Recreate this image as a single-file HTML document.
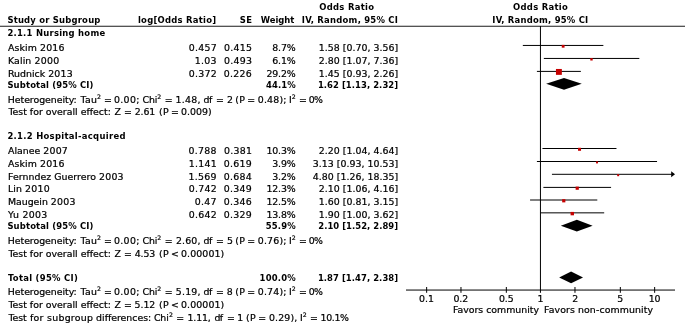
<!DOCTYPE html>
<html><head><meta charset="utf-8"><title>Forest plot</title>
<style>
html,body{margin:0;padding:0;background:#fff;overflow:hidden;}
svg{display:block;}
text{fill:#000;}
.r{font-family:"DejaVu Sans","Liberation Sans",sans-serif;font-weight:normal;font-size:9.4px;stroke:#000;stroke-width:0.22px;}
.b{font-family:"DejaVu Sans Condensed","DejaVu Sans","Liberation Sans",sans-serif;font-weight:bold;font-size:9.4px;}
</style></head><body>
<svg width="685" height="323" viewBox="0 0 685 323">
<rect width="685" height="323" fill="#fff"/>
<line x1="522.84" y1="45.45" x2="603.37" y2="45.45" stroke="#000" stroke-width="1"/>
<rect x="561.75" y="44.87" width="2.80" height="2.80" fill="#c60000"/>
<line x1="543.85" y1="58.45" x2="639.32" y2="58.45" stroke="#000" stroke-width="1"/>
<rect x="590.28" y="58.11" width="2.40" height="2.40" fill="#c60000"/>
<line x1="536.91" y1="71.40" x2="580.87" y2="71.40" stroke="#000" stroke-width="1"/>
<rect x="555.95" y="68.96" width="5.90" height="5.90" fill="#c60000"/>
<line x1="542.44" y1="148.50" x2="616.48" y2="148.50" stroke="#000" stroke-width="1"/>
<rect x="578.04" y="147.80" width="3.00" height="3.00" fill="#c60000"/>
<line x1="536.91" y1="161.50" x2="657.06" y2="161.50" stroke="#000" stroke-width="1"/>
<rect x="595.99" y="161.40" width="2.00" height="2.00" fill="#c60000"/>
<polygon points="675.0,174.30 671.2,171.30 671.2,177.30" fill="#000"/>
<line x1="551.94" y1="174.30" x2="673.00" y2="174.30" stroke="#000" stroke-width="1"/>
<rect x="617.16" y="174.20" width="2.00" height="2.00" fill="#c60000"/>
<line x1="543.38" y1="187.40" x2="611.08" y2="187.40" stroke="#000" stroke-width="1"/>
<rect x="575.63" y="186.58" width="3.20" height="3.20" fill="#c60000"/>
<line x1="530.07" y1="200.00" x2="597.31" y2="200.00" stroke="#000" stroke-width="1"/>
<rect x="562.17" y="199.18" width="3.20" height="3.20" fill="#c60000"/>
<line x1="540.50" y1="212.85" x2="604.19" y2="212.85" stroke="#000" stroke-width="1"/>
<rect x="570.58" y="211.91" width="3.40" height="3.40" fill="#c60000"/>
<polygon points="546.15,83.85 563.98,78.05 581.77,83.85 563.98,89.65" fill="#000"/>
<polygon points="560.83,225.65 576.83,219.85 592.64,225.65 576.83,231.45" fill="#000"/>
<polygon points="559.17,277.40 571.09,271.60 583.03,277.40 571.09,283.20" fill="#000"/>
<line x1="0" y1="26.25" x2="685" y2="26.25" stroke="#000" stroke-width="0.9"/>
<line x1="540.45" y1="26" x2="540.45" y2="292.8" stroke="#000" stroke-width="1"/>
<line x1="406" y1="290.05" x2="675" y2="290.05" stroke="#000" stroke-width="1"/>
<line x1="426.65" y1="287.0" x2="426.65" y2="292.8" stroke="#000" stroke-width="1"/>
<line x1="460.97" y1="287.0" x2="460.97" y2="292.8" stroke="#000" stroke-width="1"/>
<line x1="506.33" y1="287.0" x2="506.33" y2="292.8" stroke="#000" stroke-width="1"/>
<line x1="574.97" y1="287.0" x2="574.97" y2="292.8" stroke="#000" stroke-width="1"/>
<line x1="620.33" y1="287.0" x2="620.33" y2="292.8" stroke="#000" stroke-width="1"/>
<line x1="654.65" y1="287.0" x2="654.65" y2="292.8" stroke="#000" stroke-width="1"/>
<text class="b"><tspan x="319.23" y="10.00"><tspan letter-spacing="0.292">Odds Ratio</tspan></tspan></text>
<text class="b"><tspan x="513.02" y="10.00"><tspan letter-spacing="0.292">Odds Ratio</tspan></tspan></text>
<text class="b"><tspan x="7.38" y="23.00"><tspan letter-spacing="0.211">Study or Subgroup</tspan></tspan></text>
<text class="b"><tspan x="137.95" y="23.00"><tspan letter-spacing="0.263">log[Odds Ratio]</tspan></tspan></text>
<text class="b"><tspan x="239.76" y="23.00"><tspan letter-spacing="0.500">SE</tspan></tspan></text>
<text class="b"><tspan x="260.75" y="23.00"><tspan letter-spacing="-0.010">Weight</tspan></tspan></text>
<text class="b"><tspan x="301.75" y="23.00"><tspan letter-spacing="0.247">IV, Random, 95% CI</tspan></tspan></text>
<text class="b"><tspan x="492.35" y="23.00"><tspan letter-spacing="0.229">IV, Random, 95% CI</tspan></tspan></text>
<text class="r"><tspan x="7.97" y="51.00"><tspan letter-spacing="0.087">Askim </tspan><tspan letter-spacing="0.250">2016</tspan> </tspan><tspan x="188.72" y="51.00"><tspan letter-spacing="0.270">0.457</tspan> </tspan><tspan x="224.12" y="51.00"><tspan letter-spacing="0.270">0.415</tspan> </tspan><tspan x="272.31" y="51.00"><tspan letter-spacing="-0.152">8.7%</tspan> </tspan><tspan x="318.78" y="51.00"><tspan letter-spacing="0.031">1.58 [0.70, 3.56]</tspan></tspan></text>
<text class="r"><tspan x="8.03" y="64.00"><tspan letter-spacing="0.100">Kalin </tspan><tspan letter-spacing="0.250">2000</tspan> </tspan><tspan x="194.86" y="64.00"><tspan letter-spacing="0.271">1.03</tspan> </tspan><tspan x="223.99" y="64.00"><tspan letter-spacing="0.271">0.493</tspan> </tspan><tspan x="272.31" y="64.00"><tspan letter-spacing="-0.152">6.1%</tspan> </tspan><tspan x="318.78" y="64.00"><tspan letter-spacing="0.031">2.80 [1.07, 7.36]</tspan></tspan></text>
<text class="r"><tspan x="8.03" y="77.00">Rudnick <tspan letter-spacing="0.250">2013</tspan> </tspan><tspan x="188.85" y="77.00"><tspan letter-spacing="0.269">0.372</tspan> </tspan><tspan x="223.86" y="77.00"><tspan letter-spacing="0.273">0.226</tspan> </tspan><tspan x="266.43" y="77.00"><tspan letter-spacing="-0.145">29.2%</tspan> </tspan><tspan x="318.78" y="77.00"><tspan letter-spacing="0.031">1.45 [0.93, 2.26]</tspan></tspan></text>
<text class="r"><tspan x="7.97" y="154.00">Alanee <tspan letter-spacing="0.250">2007</tspan> </tspan><tspan x="188.46" y="154.00"><tspan letter-spacing="0.273">0.788</tspan> </tspan><tspan x="224.12" y="154.00"><tspan letter-spacing="0.270">0.381</tspan> </tspan><tspan x="266.42" y="154.00"><tspan letter-spacing="-0.143">10.3%</tspan> </tspan><tspan x="318.78" y="154.00"><tspan letter-spacing="0.031">2.20 [1.04, 4.64]</tspan></tspan></text>
<text class="r"><tspan x="7.97" y="167.00"><tspan letter-spacing="0.087">Askim </tspan><tspan letter-spacing="0.250">2016</tspan> </tspan><tspan x="188.74" y="167.00"><tspan letter-spacing="0.266">1.141</tspan> </tspan><tspan x="223.86" y="167.00"><tspan letter-spacing="0.273">0.619</tspan> </tspan><tspan x="272.30" y="167.00"><tspan letter-spacing="-0.152">3.9%</tspan> </tspan><tspan x="312.87" y="167.00"><tspan letter-spacing="0.031">3.13 [0.93, 10.53]</tspan></tspan></text>
<text class="r"><tspan x="8.02" y="180.00"><tspan letter-spacing="0.036">Fernndez Guerrero </tspan><tspan letter-spacing="0.250">2003</tspan> </tspan><tspan x="188.48" y="180.00"><tspan letter-spacing="0.269">1.569</tspan> </tspan><tspan x="223.73" y="180.00"><tspan letter-spacing="0.274">0.684</tspan> </tspan><tspan x="272.30" y="180.00"><tspan letter-spacing="-0.152">3.2%</tspan> </tspan><tspan x="312.87" y="180.00"><tspan letter-spacing="0.031">4.80 [1.26, 18.35]</tspan></tspan></text>
<text class="r"><tspan x="8.02" y="192.00"><tspan letter-spacing="0.056">Lin </tspan><tspan letter-spacing="0.250">2010</tspan> </tspan><tspan x="188.85" y="192.00"><tspan letter-spacing="0.269">0.742</tspan> </tspan><tspan x="223.86" y="192.00"><tspan letter-spacing="0.273">0.349</tspan> </tspan><tspan x="266.42" y="192.00"><tspan letter-spacing="-0.143">12.3%</tspan> </tspan><tspan x="318.78" y="192.00"><tspan letter-spacing="0.031">2.10 [1.06, 4.16]</tspan></tspan></text>
<text class="r"><tspan x="8.03" y="205.00"><tspan letter-spacing="-0.038">Maugein </tspan><tspan letter-spacing="0.250">2003</tspan> </tspan><tspan x="194.85" y="205.00"><tspan letter-spacing="0.277">0.47</tspan> </tspan><tspan x="223.86" y="205.00"><tspan letter-spacing="0.273">0.346</tspan> </tspan><tspan x="266.42" y="205.00"><tspan letter-spacing="-0.143">12.5%</tspan> </tspan><tspan x="318.78" y="205.00"><tspan letter-spacing="0.031">1.60 [0.81, 3.15]</tspan></tspan></text>
<text class="r"><tspan x="8.10" y="218.00"><tspan letter-spacing="0.300">Yu </tspan><tspan letter-spacing="0.250">2003</tspan> </tspan><tspan x="188.85" y="218.00"><tspan letter-spacing="0.269">0.642</tspan> </tspan><tspan x="223.86" y="218.00"><tspan letter-spacing="0.273">0.329</tspan> </tspan><tspan x="266.42" y="218.00"><tspan letter-spacing="-0.143">13.8%</tspan> </tspan><tspan x="318.78" y="218.00"><tspan letter-spacing="0.031">1.90 [1.00, 3.62]</tspan></tspan></text>
<text class="b"><tspan x="7.38" y="36.00"><tspan letter-spacing="0.260">2.1.1 Nursing home</tspan></tspan></text>
<text class="b"><tspan x="7.38" y="139.00"><tspan letter-spacing="0.303">2.1.2 Hospital-acquired</tspan></tspan></text>
<text class="b"><tspan x="7.38" y="88.00"><tspan letter-spacing="0.153">Subtotal (95% CI)</tspan> </tspan><tspan x="266.02" y="88.00"><tspan letter-spacing="0.119">44.1%</tspan> </tspan><tspan x="317.90" y="88.00"><tspan letter-spacing="0.062">1.62 [1.13, 2.32]</tspan></tspan></text>
<text class="b"><tspan x="7.38" y="229.00"><tspan letter-spacing="0.153">Subtotal (95% CI)</tspan> </tspan><tspan x="265.77" y="229.00"><tspan letter-spacing="0.181">55.9%</tspan> </tspan><tspan x="318.27" y="229.00"><tspan letter-spacing="0.039">2.10 [1.52, 2.89]</tspan></tspan></text>
<text class="b"><tspan x="8.00" y="281.00"><tspan letter-spacing="0.296">Total (95% CI)</tspan> </tspan><tspan x="259.60" y="281.00"><tspan letter-spacing="0.205">100.0%</tspan> </tspan><tspan x="317.90" y="281.00"><tspan letter-spacing="0.062">1.87 [1.47, 2.38]</tspan></tspan></text>
<text class="r"><tspan x="7.72" y="103.00"><tspan letter-spacing="-0.029">Heterogeneity:</tspan> </tspan><tspan x="80.60" y="103.00"><tspan letter-spacing="0.300">Tau</tspan></tspan><tspan x="96.93" y="99.00" style="font-size:6.2px">2 </tspan><tspan x="103.96" y="103.00">= </tspan><tspan x="114.09" y="103.00"><tspan letter-spacing="0.300">0.00;</tspan> </tspan><tspan x="142.50" y="103.00"><tspan letter-spacing="-0.075">Chi</tspan></tspan><tspan x="157.28" y="99.00" style="font-size:6.2px">2 </tspan><tspan x="164.86" y="103.00">= </tspan><tspan x="175.60" y="103.00"><tspan letter-spacing="0.250">1.48,</tspan> </tspan><tspan x="203.54" y="103.00"><tspan letter-spacing="-0.550">df</tspan> </tspan><tspan x="216.06" y="103.00">= </tspan><tspan x="227.02" y="103.00">2 </tspan><tspan x="235.28" y="103.00"><tspan letter-spacing="0.300">(P</tspan> </tspan><tspan x="247.31" y="103.00">= </tspan><tspan x="257.77" y="103.00"><tspan letter-spacing="0.200">0.48);</tspan> </tspan><tspan x="289.02" y="103.00">I</tspan><tspan x="291.63" y="99.00" style="font-size:6.2px">2 </tspan><tspan x="298.91" y="103.00">= </tspan><tspan x="308.67" y="103.00"><tspan letter-spacing="-0.550">0%</tspan></tspan></text>
<text class="r"><tspan x="8.40" y="115.00"><tspan letter-spacing="0.009">Test for overall effect:</tspan> </tspan><tspan x="114.61" y="115.00">Z </tspan><tspan x="124.11" y="115.00">= </tspan><tspan x="134.68" y="115.00"><tspan letter-spacing="-0.092">2.61</tspan> </tspan><tspan x="158.97" y="115.00"><tspan letter-spacing="0.300">(P</tspan> </tspan><tspan x="170.91" y="115.00">= </tspan><tspan x="180.98" y="115.00"><tspan letter-spacing="0.055">0.009)</tspan></tspan></text>
<text class="r"><tspan x="7.72" y="244.00"><tspan letter-spacing="-0.029">Heterogeneity:</tspan> </tspan><tspan x="80.60" y="244.00"><tspan letter-spacing="0.300">Tau</tspan></tspan><tspan x="96.93" y="240.00" style="font-size:6.2px">2 </tspan><tspan x="103.96" y="244.00">= </tspan><tspan x="114.09" y="244.00"><tspan letter-spacing="0.300">0.00;</tspan> </tspan><tspan x="142.50" y="244.00"><tspan letter-spacing="-0.075">Chi</tspan></tspan><tspan x="157.28" y="240.00" style="font-size:6.2px">2 </tspan><tspan x="164.86" y="244.00">= </tspan><tspan x="175.97" y="244.00"><tspan letter-spacing="0.156">2.60,</tspan> </tspan><tspan x="203.54" y="244.00"><tspan letter-spacing="-0.550">df</tspan> </tspan><tspan x="216.06" y="244.00">= </tspan><tspan x="226.89" y="244.00">5 </tspan><tspan x="235.28" y="244.00"><tspan letter-spacing="0.300">(P</tspan> </tspan><tspan x="247.31" y="244.00">= </tspan><tspan x="257.77" y="244.00"><tspan letter-spacing="0.200">0.76);</tspan> </tspan><tspan x="289.02" y="244.00">I</tspan><tspan x="291.63" y="240.00" style="font-size:6.2px">2 </tspan><tspan x="298.91" y="244.00">= </tspan><tspan x="308.67" y="244.00"><tspan letter-spacing="-0.550">0%</tspan></tspan></text>
<text class="r"><tspan x="8.40" y="257.00"><tspan letter-spacing="0.009">Test for overall effect:</tspan> </tspan><tspan x="114.61" y="257.00">Z </tspan><tspan x="124.11" y="257.00">= </tspan><tspan x="134.80" y="257.00"><tspan letter-spacing="-0.175">4.53</tspan> </tspan><tspan x="158.97" y="257.00"><tspan letter-spacing="0.300">(P</tspan> </tspan><tspan x="170.91" y="257.00">&lt; </tspan><tspan x="180.97" y="257.00"><tspan letter-spacing="0.114">0.00001)</tspan></tspan></text>
<text class="r"><tspan x="7.72" y="295.00"><tspan letter-spacing="-0.029">Heterogeneity:</tspan> </tspan><tspan x="80.60" y="295.00"><tspan letter-spacing="0.300">Tau</tspan></tspan><tspan x="96.93" y="291.00" style="font-size:6.2px">2 </tspan><tspan x="103.96" y="295.00">= </tspan><tspan x="114.09" y="295.00"><tspan letter-spacing="0.300">0.00;</tspan> </tspan><tspan x="142.50" y="295.00"><tspan letter-spacing="-0.075">Chi</tspan></tspan><tspan x="157.28" y="291.00" style="font-size:6.2px">2 </tspan><tspan x="164.86" y="295.00">= </tspan><tspan x="175.85" y="295.00"><tspan letter-spacing="0.188">5.19,</tspan> </tspan><tspan x="203.54" y="295.00"><tspan letter-spacing="-0.550">df</tspan> </tspan><tspan x="216.06" y="295.00">= </tspan><tspan x="226.82" y="295.00">8 </tspan><tspan x="235.28" y="295.00"><tspan letter-spacing="0.300">(P</tspan> </tspan><tspan x="247.31" y="295.00">= </tspan><tspan x="257.77" y="295.00"><tspan letter-spacing="0.200">0.74);</tspan> </tspan><tspan x="289.02" y="295.00">I</tspan><tspan x="291.63" y="291.00" style="font-size:6.2px">2 </tspan><tspan x="298.91" y="295.00">= </tspan><tspan x="308.67" y="295.00"><tspan letter-spacing="-0.550">0%</tspan></tspan></text>
<text class="r"><tspan x="8.40" y="308.00"><tspan letter-spacing="0.009">Test for overall effect:</tspan> </tspan><tspan x="114.61" y="308.00">Z </tspan><tspan x="124.11" y="308.00">= </tspan><tspan x="134.55" y="308.00"><tspan letter-spacing="-0.050">5.12</tspan> </tspan><tspan x="158.97" y="308.00"><tspan letter-spacing="0.300">(P</tspan> </tspan><tspan x="170.91" y="308.00">&lt; </tspan><tspan x="180.97" y="308.00"><tspan letter-spacing="0.114">0.00001)</tspan></tspan></text>
<text class="r"><tspan x="8.40" y="321.00"><tspan letter-spacing="-0.017">Test</tspan> </tspan><tspan x="29.94" y="321.00"><tspan letter-spacing="0.300">for</tspan> </tspan><tspan x="47.10" y="321.00"><tspan letter-spacing="0.257">subgroup</tspan> </tspan><tspan x="96.10" y="321.00"><tspan letter-spacing="-0.009">differences:</tspan> </tspan><tspan x="153.90" y="321.00"><tspan letter-spacing="-0.075">Chi</tspan></tspan><tspan x="168.88" y="317.00" style="font-size:6.2px">2 </tspan><tspan x="176.31" y="321.00">= </tspan><tspan x="187.40" y="321.00"><tspan letter-spacing="-0.100">1.11,</tspan> </tspan><tspan x="214.44" y="321.00"><tspan letter-spacing="-0.550">df</tspan> </tspan><tspan x="226.96" y="321.00">= </tspan><tspan x="237.17" y="321.00">1 </tspan><tspan x="245.97" y="321.00"><tspan letter-spacing="0.300">(P</tspan> </tspan><tspan x="258.31" y="321.00">= </tspan><tspan x="268.98" y="321.00"><tspan letter-spacing="0.160">0.29),</tspan> </tspan><tspan x="300.02" y="321.00">I</tspan><tspan x="302.83" y="317.00" style="font-size:6.2px">2 </tspan><tspan x="309.91" y="321.00">= </tspan><tspan x="320.60" y="321.00"><tspan letter-spacing="-0.363">10.1%</tspan></tspan></text>
<text class="r"><tspan x="418.94" y="302.00">0.1</tspan></text>
<text class="r"><tspan x="453.39" y="302.00">0.2</tspan></text>
<text class="r"><tspan x="498.92" y="302.00">0.5</tspan></text>
<text class="r"><tspan x="537.44" y="302.00">1</tspan></text>
<text class="r"><tspan x="572.14" y="302.00">2</tspan></text>
<text class="r"><tspan x="617.26" y="302.00">5</tspan></text>
<text class="r"><tspan x="648.66" y="302.00">10</tspan></text>
<text class="r"><tspan x="453.02" y="313.30"><tspan letter-spacing="-0.013">Favors community</tspan></tspan></text>
<text class="r"><tspan x="544.02" y="313.30"><tspan letter-spacing="0.100">Favors non-community</tspan></tspan></text>
</svg>
</body></html>
